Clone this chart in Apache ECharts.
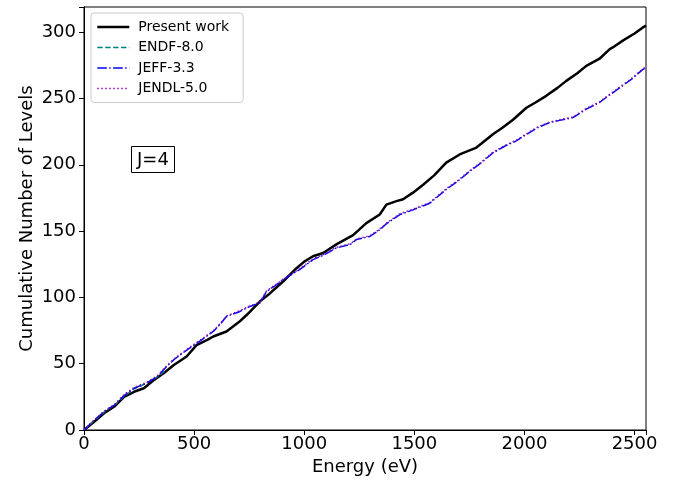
<!DOCTYPE html>
<html>
<head>
<meta charset="utf-8">
<script src="https://cdn.jsdelivr.net/npm/echarts@6/dist/echarts.min.js"></script>
<style>
  html, body { margin: 0; padding: 0; background: #fff; }
  #chart { width: 675px; height: 481px; }
</style>
</head>
<body>
<div id="chart"></div>
<script>
// Cumulative number of J=4 resonance levels versus neutron energy (eV)

const presentEnergy = [0, 45, 91, 140, 182, 230, 272, 320, 363, 408, 466, 511, 560, 587, 647, 708, 753, 799, 844, 904, 965, 1000, 1040, 1086, 1146, 1222, 1282, 1343, 1373, 1419, 1449, 1494, 1540, 1590, 1645, 1706, 1782, 1857, 1900, 1948, 2009, 2050, 2099, 2150, 2190, 2240, 2281, 2341, 2386, 2401, 2450, 2500, 2538, 2552];
const presentLevels = [0, 6, 12.6, 18, 25, 29, 31.5, 38, 43, 49, 55.4, 64, 68, 70.5, 74.3, 82, 89, 97, 103, 112, 122, 127, 131, 133.5, 140, 147, 156, 162.5, 170, 172.6, 174, 179, 185, 192, 201.6, 207.8, 213, 223, 228, 234, 243, 247, 252, 258, 263.3, 269, 274.6, 280, 287, 288.5, 294, 299, 303.6, 305];

const endfEnergy = [0, 45, 91, 140, 182, 227, 280, 333, 370];
const endfLevels = [0, 7, 13.5, 19, 25.5, 31, 35, 40, 45];

const jeffEnergy = [0, 45, 91, 140, 182, 227, 280, 333, 370, 408, 440, 481, 526, 587, 620, 647, 708, 753, 799, 829, 870, 904, 940, 979, 1040, 1090, 1146, 1210, 1237, 1298, 1343, 1373, 1434, 1494, 1570, 1645, 1700, 1751, 1800, 1857, 1910, 1963, 2010, 2060, 2114, 2160, 2220, 2281, 2341, 2390, 2432, 2490, 2538, 2552];
const jeffLevels = [0, 7, 13.9, 19, 26, 31.5, 35, 40.3, 47, 53, 57, 62, 67, 74.3, 80, 85.6, 89.4, 93.2, 95.8, 104.5, 109, 113.4, 117, 121, 128.5, 132, 137.3, 140, 143.6, 146, 151, 155.5, 162.5, 166, 171, 181.4, 188, 195, 201, 209, 214, 218, 223, 228, 231.8, 233.5, 235.6, 242, 247, 253, 258, 265, 272, 273];

const jendlEnergy = [0, 45, 91, 140, 182, 227, 280, 333, 370, 408, 440, 481, 526, 587, 620, 647, 708, 753, 799, 829, 870, 904, 940, 979, 1040, 1090, 1146, 1210, 1237, 1298, 1343, 1373, 1434, 1494, 1570, 1645, 1700, 1751, 1800, 1857, 1910, 1963, 2010, 2060, 2114, 2160, 2220, 2281, 2341, 2390, 2432, 2490, 2538, 2552];
const jendlLevels = [0, 7.3, 14.2, 19.5, 26.8, 32, 35.5, 41, 47.5, 53.5, 57.5, 62.5, 67.5, 74.8, 80.5, 86, 90, 93.5, 96.5, 105, 109.5, 113.8, 117.5, 121.5, 129, 132.5, 137.8, 140.5, 144, 146.5, 151.5, 156, 163, 166.5, 171.5, 182, 188.5, 195.5, 201.5, 209.5, 214.5, 218.5, 223.5, 228.5, 232.2, 234, 236, 242.5, 247.5, 253.5, 258.5, 265.5, 272.5, 273.5];

const xTicks = [0, 500, 1000, 1500, 2000, 2500];
const yTicks = [0, 50, 100, 150, 200, 250, 300];

const pairs = (xs, ys) => xs.map((x, i) => [x, ys[i]]);
const FONT = 'DejaVu Sans';

// Per-series styles: [name, colour, width, dash pattern]
const styles = [
  ['Present work', '#000000', 2.5, 'solid'],
  ['ENDF-8.0', '#008080', 1.5, [5.5, 2.4]],
  ['JEFF-3.3', '#0000ff', 1.5, [9.6, 2.4, 1.5, 2.4]],
  ['JENDL-5.0', '#8b10a0', 1.5, [1.5, 2.5]]
];

const chart = echarts.init(document.getElementById('chart'), null, { renderer: 'canvas' });

function lineSeries(idx, xs, ys) {
  const [name, color, width, dash] = styles[idx];
  return {
    name: name,
    type: 'line',
    data: pairs(xs, ys),
    showSymbol: false,
    symbol: 'none',
    smooth: false,
    animation: false,
    lineStyle: { color: color, width: width, type: dash },
    itemStyle: { color: color }
  };
}

chart.setOption({
  animation: false,
  backgroundColor: '#fff',
  textStyle: { fontFamily: FONT },
  grid: {
    left: 84, top: 7, right: 29, bottom: 51,
    show: true, borderColor: '#000', borderWidth: 1, backgroundColor: 'transparent'
  },
  title: {
    text: 'J=4',
    left: 131, top: 146,
    borderColor: '#000', borderWidth: 1,
    padding: [5, 6, 4, 6],
    textStyle: { fontFamily: FONT, fontSize: 18, fontWeight: 'normal', color: '#000' }
  },
  legend: {
    orient: 'vertical',
    left: 91, top: 13,
    padding: [7, 14, 7, 5],
    itemGap: 6.5,
    itemWidth: 32, itemHeight: 15,
    borderColor: '#ccc', borderWidth: 1, borderRadius: 3,
    backgroundColor: 'rgba(255,255,255,0.8)',
    itemStyle: { opacity: 0 },
    textStyle: { fontFamily: FONT, fontSize: 14, color: '#000', padding: [0, 0, 0, 4] },
    data: styles.map(([name, color, width, dash]) => ({
      name: name,
      lineStyle: { color: color, width: width, type: dash }
    }))
  },
  xAxis: {
    type: 'value',
    min: 0, max: 2552, interval: 500,
    name: 'Energy (eV)', nameLocation: 'middle', nameGap: 28,
    nameMoveOverlap: false,
    nameTextStyle: { fontFamily: FONT, fontSize: 18, color: '#000' },
    axisLine: { show: true, onZero: false, lineStyle: { color: '#000', width: 1 } },
    axisTick: { show: true, length: 5, lineStyle: { color: '#000' } },
    axisLabel: {
      fontFamily: FONT, fontSize: 18, color: '#000', margin: 5,
      formatter: v => (xTicks.includes(v) ? String(v) : '')
    },
    splitLine: { show: false }
  },
  yAxis: {
    type: 'value',
    min: 0, max: 319, interval: 50,
    name: 'Cumulative Number of Levels', nameLocation: 'middle', nameGap: 48,
    nameMoveOverlap: false,
    nameTextStyle: { fontFamily: FONT, fontSize: 18, color: '#000' },
    axisLine: { show: true, onZero: false, lineStyle: { color: '#000', width: 1 } },
    axisTick: { show: true, length: 5, lineStyle: { color: '#000' } },
    axisLabel: {
      fontFamily: FONT, fontSize: 18, color: '#000', margin: 8,
      formatter: v => (yTicks.includes(v) ? String(v) : '')
    },
    splitLine: { show: false }
  },
  series: [
    lineSeries(0, presentEnergy, presentLevels),
    lineSeries(1, endfEnergy, endfLevels),
    lineSeries(2, jeffEnergy, jeffLevels),
    lineSeries(3, jendlEnergy, jendlLevels)
  ]
});
</script>
</body>
</html>
